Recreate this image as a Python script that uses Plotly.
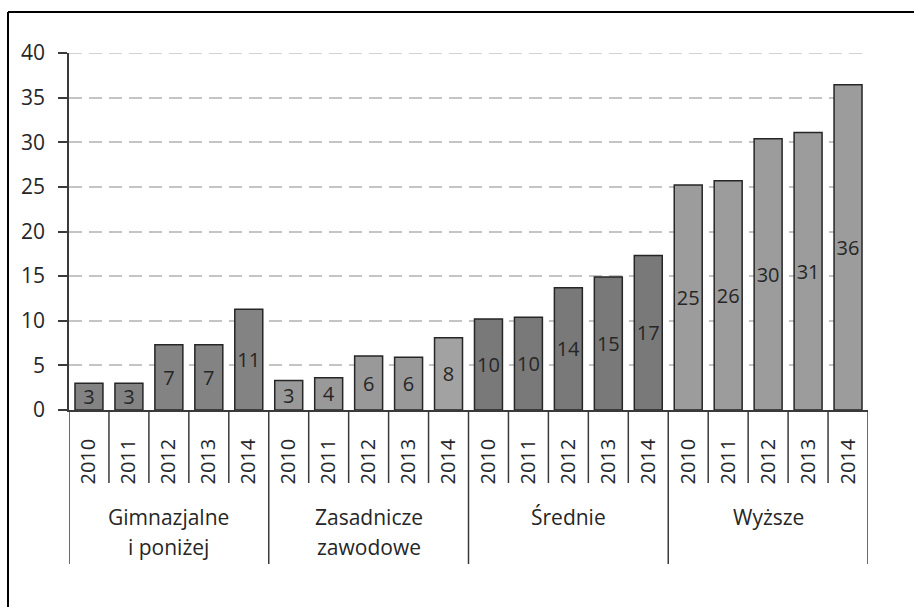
import plotly.graph_objects as go

# Education levels (group labels, split into two display rows)
groups_line1 = ["Gimnazjalne", "Zasadnicze", "Średnie", "Wyższe"]
groups_line2 = ["i poniżej", "zawodowe", "", ""]
years = ["2010", "2011", "2012", "2013", "2014"]

# Values per education level, 2010-2014
gimnazjalne = [3.0, 3.0, 7.3, 7.3, 11.3]
zasadnicze = [3.3, 3.6, 6.05, 5.9, 8.1]
srednie = [10.2, 10.4, 13.7, 14.9, 17.3]
wyzsze = [25.2, 25.7, 30.4, 31.1, 36.45]

series = [gimnazjalne, zasadnicze, srednie, wyzsze]
fills = [
    ["#838383"] * 5,
    ["#999999", "#999999", "#999999", "#999999", "#a2a2a2"],
    ["#797979"] * 5,
    ["#9c9c9c"] * 5,
]

FONT = "Open Sans"
DARK = "#262626"
Y_MAX = 40

n_years = len(years)
fig = go.Figure()

xs_all, labels_all = [], []
for g, vals in enumerate(series):
    xs = [g * n_years + i for i in range(n_years)]
    xs_all += xs
    labels_all += years
    fig.add_trace(go.Bar(
        x=xs, y=vals,
        width=0.7,
        marker=dict(color=fills[g], line=dict(color=DARK, width=1.5)),
        texttemplate="%{y:.0f}",
        textposition="inside",
        insidetextanchor="middle",
        textangle=0,
        constraintext="none",
        textfont=dict(family=FONT, size=20, color=DARK),
        showlegend=False,
        hoverinfo="skip",
    ))

# Plot-area geometry in pixels (used to place the category-axis decorations)
L, R, T, B = 69, 46, 53, 197
W, H = 914, 607
ph = H - T - B


def py(pix):
    """Convert a page pixel row to paper y coordinate."""
    return (H - B - pix) / ph


def px(pix):
    pw = W - L - R
    return (pix - L) / pw


GRID = dict(color="#c4c4c4", width=1.5, dash="13px,7px")

shapes = []
n_total = len(xs_all)
# top gridline at the end of the value range
shapes.append(dict(type="line", xref="paper", yref="y", layer="below",
                   x0=0, x1=1, y0=Y_MAX, y1=Y_MAX, line=GRID))
# short dividers between years
for k in range(1, n_total):
    if k % n_years == 0:
        continue
    shapes.append(dict(type="line", xref="x", yref="paper",
                       x0=k - 0.5, x1=k - 0.5, y0=0, y1=py(483),
                       line=dict(color="#3a3a3a", width=1.5)))
# long dividers between education levels
for k in range(0, n_total + 1, n_years):
    shapes.append(dict(type="line", xref="x", yref="paper",
                       x0=k - 0.5, x1=k - 0.5, y0=0, y1=py(564),
                       line=dict(color="#3a3a3a", width=1.5)))
# page frame (top and left edges)
shapes.append(dict(type="line", xref="paper", yref="paper",
                   x0=px(8), x1=px(920), y0=py(12), y1=py(12),
                   line=dict(color="black", width=2)))
shapes.append(dict(type="line", xref="paper", yref="paper",
                   x0=px(8), x1=px(8), y0=py(12), y1=py(620),
                   line=dict(color="black", width=2)))

annotations = []
for g in range(len(groups_line1)):
    cx = g * n_years + (n_years - 1) / 2
    annotations.append(dict(x=cx, y=py(517), xref="x", yref="paper",
                            text=groups_line1[g], showarrow=False,
                            xanchor="center", yanchor="middle",
                            font=dict(family=FONT, size=21, color=DARK)))
    if groups_line2[g]:
        annotations.append(dict(x=cx, y=py(547), xref="x", yref="paper",
                                text=groups_line2[g], showarrow=False,
                                xanchor="center", yanchor="middle",
                                font=dict(family=FONT, size=21, color=DARK)))

fig.update_layout(
    width=W, height=H,
    margin=dict(l=L, r=R, t=T, b=B, pad=0),
    paper_bgcolor="white",
    plot_bgcolor="white",
    bargap=0.3,
    shapes=shapes,
    annotations=annotations,
    font=dict(family=FONT, color=DARK),
)

fig.update_xaxes(
    range=[-0.5, n_total - 0.5],
    tickmode="array",
    tickvals=xs_all,
    ticktext=labels_all,
    tickangle=-90,
    ticks="",
    ticklabelstandoff=19,
    tickfont=dict(family=FONT, size=20, color=DARK),
    showline=True, linecolor="#3a3a3a", linewidth=1.5,
    showgrid=False, zeroline=False,
    fixedrange=True,
)

fig.update_yaxes(
    range=[0, Y_MAX],
    tick0=0, dtick=5,
    ticks="outside", ticklen=9, tickcolor="#3a3a3a", tickwidth=1.5,
    ticklabelstandoff=9,
    tickfont=dict(family=FONT, size=21, color=DARK),
    showline=True, linecolor="#3a3a3a", linewidth=1.5,
    showgrid=True, gridcolor=GRID["color"], gridwidth=GRID["width"],
    griddash=GRID["dash"],
    zeroline=False,
    fixedrange=True,
)

fig.write_html("out.html")
